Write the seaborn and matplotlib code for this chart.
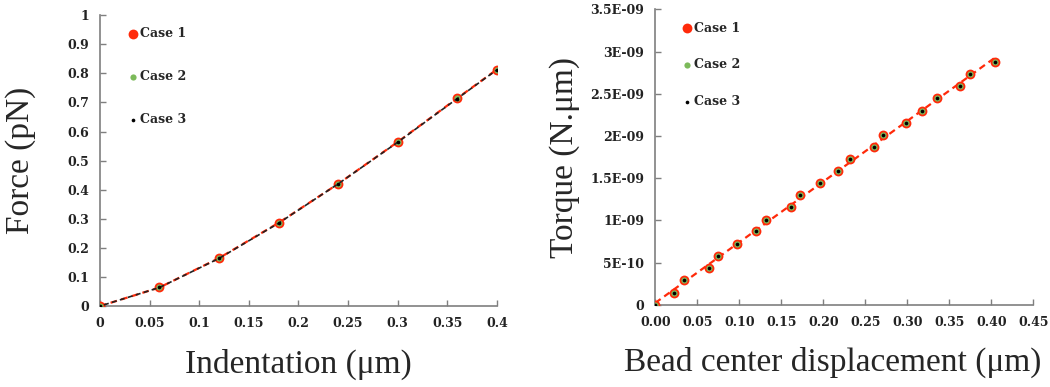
import pandas as pd
import matplotlib.pyplot as plt
import seaborn as sns

# --- data ---
indent = [0, 0.06, 0.12, 0.18, 0.24, 0.30, 0.36, 0.40]
force_c1 = [0, 0.064, 0.165, 0.286, 0.420, 0.564, 0.714, 0.813]
force_c2 = [0, 0.064, 0.165, 0.286, 0.420, 0.564, 0.714, 0.813]
force_c3 = [0, 0.064, 0.164, 0.285, 0.420, 0.563, 0.713, 0.812]

disp = [0, 0.0226, 0.0338, 0.0639, 0.0747, 0.0977, 0.1195, 0.1315, 0.1612, 0.1728,
        0.1958, 0.218, 0.2315, 0.260, 0.2709, 0.2987, 0.3173, 0.3356, 0.363, 0.3753, 0.4051]
torque_c1 = [0, 0.146e-9, 0.296e-9, 0.434e-9, 0.584e-9, 0.718e-9, 0.872e-9, 1.010e-9, 1.156e-9,
             1.298e-9, 1.448e-9, 1.586e-9, 1.725e-9, 1.874e-9, 2.017e-9, 2.159e-9, 2.301e-9,
             2.451e-9, 2.589e-9, 2.739e-9, 2.877e-9]
torque_c2 = list(torque_c1)
torque_c3 = list(torque_c1)

left_xticks = [0, 0.05, 0.1, 0.15, 0.2, 0.25, 0.3, 0.35, 0.4]
left_xlabels = ['0', '0.05', '0.1', '0.15', '0.2', '0.25', '0.3', '0.35', '0.4']
left_yticks = [0, 0.1, 0.2, 0.3, 0.4, 0.5, 0.6, 0.7, 0.8, 0.9, 1.0]
left_ylabels = ['0', '0.1', '0.2', '0.3', '0.4', '0.5', '0.6', '0.7', '0.8', '0.9', '1']
right_xticks = [0, 0.05, 0.1, 0.15, 0.2, 0.25, 0.3, 0.35, 0.4, 0.45]
right_xlabels = ['0.00', '0.05', '0.10', '0.15', '0.20', '0.25', '0.30', '0.35', '0.40', '0.45']
right_yticks = [0, 0.5e-9, 1e-9, 1.5e-9, 2e-9, 2.5e-9, 3e-9, 3.5e-9]
right_ylabels = ['0', '5E-10', '1E-09', '1.5E-09', '2E-09', '2.5E-09', '3E-09', '3.5E-09']

RED = '#ff2a0a'
GREEN = '#7cba5a'
BLACK = '#000000'

sns.set_theme(style='ticks')
plt.rcParams['font.family'] = ['DejaVu Serif']

fig = plt.figure(figsize=(10.5, 3.87), dpi=100)
ax1 = fig.add_axes([0.0952, 0.209, 0.378, 0.752])
ax2 = fig.add_axes([0.624, 0.212, 0.36, 0.764])

left = pd.DataFrame({'x': indent, 'c1': force_c1, 'c2': force_c2, 'c3': force_c3})
right = pd.DataFrame({'x': disp, 'c1': torque_c1, 'c2': torque_c2, 'c3': torque_c3})

# left panel
sns.lineplot(data=left, x='x', y='c1', ax=ax1, color=RED, linestyle=(0, (3, 2)), lw=1.6, zorder=2)
sns.scatterplot(data=left, x='x', y='c1', ax=ax1, color=RED, s=50, linewidth=0, label='Case 1', zorder=3)
sns.scatterplot(data=left, x='x', y='c2', ax=ax1, color=GREEN, s=20, linewidth=0, label='Case 2', zorder=4)
sns.scatterplot(data=left, x='x', y='c3', ax=ax1, color=BLACK, s=7, linewidth=0, label='Case 3', zorder=5)
sns.lineplot(data=left, x='x', y='c3', ax=ax1, color='#222222', linestyle=(2.5, (3, 2)), lw=1.2, zorder=4)

# right panel
sns.regplot(data=right, x='x', y='c1', ax=ax2, scatter=False, ci=None,
            line_kws=dict(color=RED, linestyle=(0, (3, 2)), lw=1.6, zorder=2))
sns.scatterplot(data=right, x='x', y='c1', ax=ax2, color=RED, s=50, linewidth=0, label='Case 1', zorder=3)
sns.scatterplot(data=right, x='x', y='c2', ax=ax2, color=GREEN, s=20, linewidth=0, label='Case 2', zorder=4)
sns.scatterplot(data=right, x='x', y='c3', ax=ax2, color=BLACK, s=7, linewidth=0, label='Case 3', zorder=5)

setup = [
    (ax1, (0, 0.4), (0, 1.0), left_xticks, left_xlabels, left_yticks, left_ylabels,
     'Indentation (μm)', 'Force (pN)', 2.4, (0.055, 0.975)),
    (ax2, (0, 0.45), (0, 3.5e-9), right_xticks, right_xlabels, right_yticks, right_ylabels,
     'Bead center displacement (μm)', 'Torque (N.μm)', 1.9, (0.055, 0.975)),
]
for ax, xl, yl, xt, xtl, yt, ytl, xlab, ylab, spacing, anchor in setup:
    ax.set_xlim(*xl)
    ax.set_ylim(*yl)
    ax.set_xticks(xt)
    ax.set_xticklabels(xtl, fontsize=9, fontweight='bold', color='#222222')
    ax.set_yticks(yt)
    ax.set_yticklabels(ytl, fontsize=9, fontweight='bold', color='#222222')
    ax.tick_params(direction='in', length=4, width=1, color='#7f7f7f', pad=8)
    for sp in ['top', 'right']:
        ax.spines[sp].set_visible(False)
    for sp in ['left', 'bottom']:
        ax.spines[sp].set_color('#7f7f7f')
        ax.spines[sp].set_linewidth(1.2)
    ax.set_xlabel(xlab, fontsize=24, family='Liberation Serif')
    ax.set_ylabel(ylab, fontsize=24, family='Liberation Serif')
    leg = ax.legend(loc='upper left', bbox_to_anchor=anchor, frameon=False,
                    labelspacing=spacing, handletextpad=0.05, handlelength=1.0,
                    borderaxespad=0, prop=dict(size=9, weight='bold'))
    ax.margins(0)

ax1.yaxis.set_label_coords(-0.16, 0.5)
ax2.yaxis.set_label_coords(-0.20, 0.5)
ax1.xaxis.set_label_coords(0.5, -0.145)
# the right label runs to the figure edge in the original; keep it just inside
ax2.xaxis.set_label_coords(0.47, -0.143)

fig.savefig('out.png', dpi=100)
